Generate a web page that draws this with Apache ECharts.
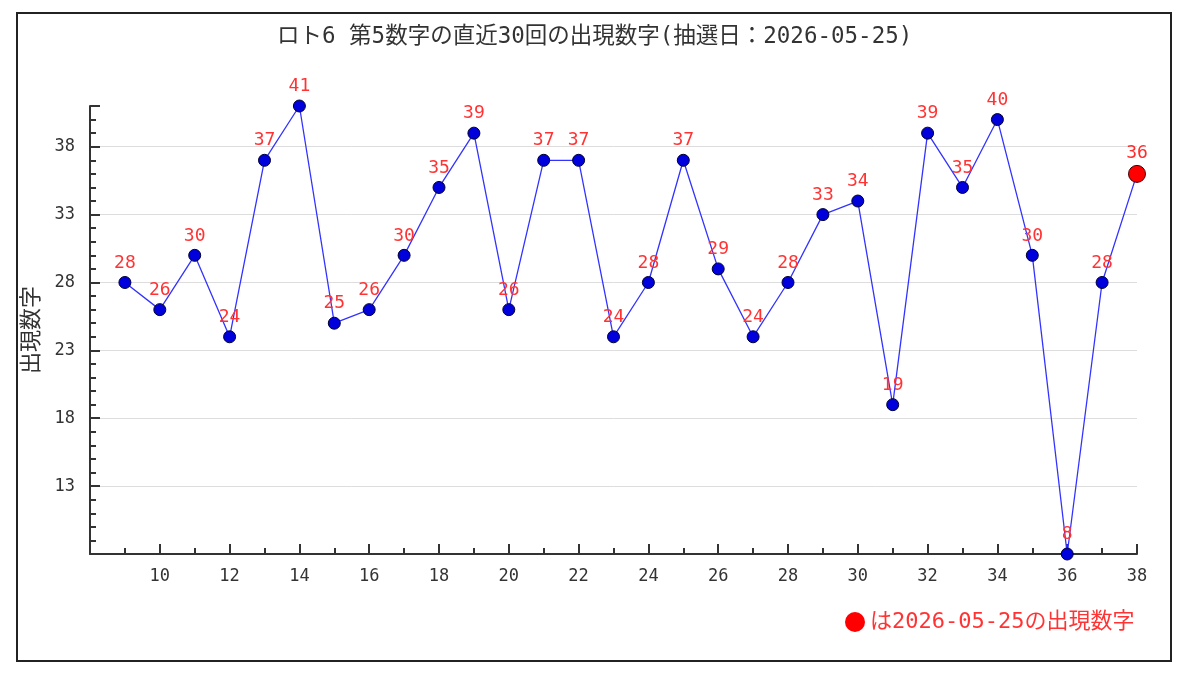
<!DOCTYPE html>
<html>
<head>
<meta charset="utf-8">
<script src="https://cdn.jsdelivr.net/npm/echarts@6/dist/echarts.min.js"></script>
<style>
  html, body { margin: 0; padding: 0; background: #fff; }
  #main { width: 1200px; height: 682px; }
</style>
</head>
<body>
<div id="main"></div>
<script>
// 回数（横軸）と第5数字
var draws = [9, 10, 11, 12, 13, 14, 15, 16, 17, 18, 19, 20, 21, 22, 23,
             24, 25, 26, 27, 28, 29, 30, 31, 32, 33, 34, 35, 36, 37, 38];
var values = [28, 26, 30, 24, 37, 41, 25, 26, 30, 35, 39, 26, 37, 37, 24,
              28, 37, 29, 24, 28, 33, 34, 19, 39, 35, 40, 30, 8, 28, 36];
var yLabels = [13, 18, 23, 28, 33, 38];
var latestName = 'は2026-05-25の出現数字';

var FONT = "'DejaVu Sans Mono', 'Noto Sans CJK JP', monospace";

var chart = echarts.init(document.getElementById('main'));

var last = draws.length - 1;
// 最新回のラベルは赤い点のほうで出す
var lineData = draws.map(function (d, i) {
    var item = { value: [d, values[i]] };
    if (i === last) {
        item.label = { show: false };
    }
    return item;
});

var option = {
    animation: false,
    backgroundColor: '#fff',
    title: {
        text: 'ロト6 第5数字の直近30回の出現数字(抽選日：2026-05-25)',
        left: 272,
        top: 21,
        textStyle: { fontFamily: FONT, fontSize: 22.5, fontWeight: 'normal', color: '#333' }
    },
    graphic: [{
        type: 'rect',
        shape: { x: 17, y: 13, width: 1154, height: 648 },
        style: { fill: 'none', stroke: '#222', lineWidth: 2 },
        silent: true
    }],
    legend: {
        data: [latestName],
        left: 840,
        top: 606,
        icon: 'circle',
        itemWidth: 20,
        itemHeight: 20,
        itemStyle: { borderWidth: 0, color: '#ff0000' },
        textStyle: { fontFamily: FONT, fontSize: 22, color: '#ff3333' }
    },
    grid: { left: 90, right: 63, top: 106, bottom: 128, containLabel: false },
    xAxis: {
        type: 'value',
        min: 8,
        max: 38,
        interval: 2,
        axisLine: { lineStyle: { color: '#333', width: 2 } },
        axisTick: { inside: true, length: 10, lineStyle: { color: '#333', width: 2 } },
        minorTick: { show: true, splitNumber: 2, length: 6, lineStyle: { color: '#333', width: 2 } },
        axisLabel: { showMinLabel: false, margin: 14, fontFamily: FONT, fontSize: 17, color: '#333' },
        splitLine: { show: false }
    },
    yAxis: [{
        type: 'value',
        position: 'left',
        min: 8,
        max: 41,
        interval: 1,
        name: '出現数字',
        nameLocation: 'middle',
        nameGap: 45,
        nameTextStyle: { fontFamily: FONT, fontSize: 22, color: '#333' },
        axisLine: { show: true, lineStyle: { color: '#333', width: 2 } },
        axisTick: { inside: true, length: 6, lineStyle: { color: '#333', width: 2 } },
        axisLabel: {
            margin: 15,
            fontFamily: FONT,
            fontSize: 17,
            color: '#333',
            formatter: function (v) { return yLabels.indexOf(v) >= 0 ? String(v) : ''; }
        },
        splitLine: {
            show: true,
            lineStyle: { color: ['#dddddd', 'rgba(0,0,0,0)', 'rgba(0,0,0,0)', 'rgba(0,0,0,0)', 'rgba(0,0,0,0)'], width: 1 }
        }
    }, {
        type: 'value',
        position: 'left',
        min: 8,
        max: 41,
        interval: 5,
        axisLine: { show: false },
        axisTick: { show: true, inside: true, length: 10, lineStyle: { color: '#333', width: 2 } },
        axisLabel: { show: false },
        splitLine: { show: false }
    }],
    series: [{
        name: '第5数字',
        type: 'line',
        yAxisIndex: 0,
        data: lineData,
        symbol: 'circle',
        symbolSize: 12,
        lineStyle: { color: '#3333ff', width: 1.3 },
        itemStyle: { color: '#0000dd', borderColor: '#000033', borderWidth: 1 },
        label: {
            show: true,
            position: 'top',
            distance: 4,
            fontFamily: FONT,
            fontSize: 18,
            color: '#ff3333',
            formatter: function (p) { return p.value[1]; }
        },
        z: 3
    }, {
        name: latestName,
        type: 'scatter',
        yAxisIndex: 0,
        data: [[draws[last], values[last]]],
        symbol: 'circle',
        symbolSize: 17,
        itemStyle: { color: '#ff0000', borderColor: '#440000', borderWidth: 1, opacity: 1 },
        label: {
            show: true,
            position: 'top',
            distance: 3,
            fontFamily: FONT,
            fontSize: 18,
            color: '#ff2a2a',
            opacity: 1,
            formatter: function (p) { return p.value[1]; }
        },
        z: 4
    }]
};

chart.setOption(option);
</script>
</body>
</html>
